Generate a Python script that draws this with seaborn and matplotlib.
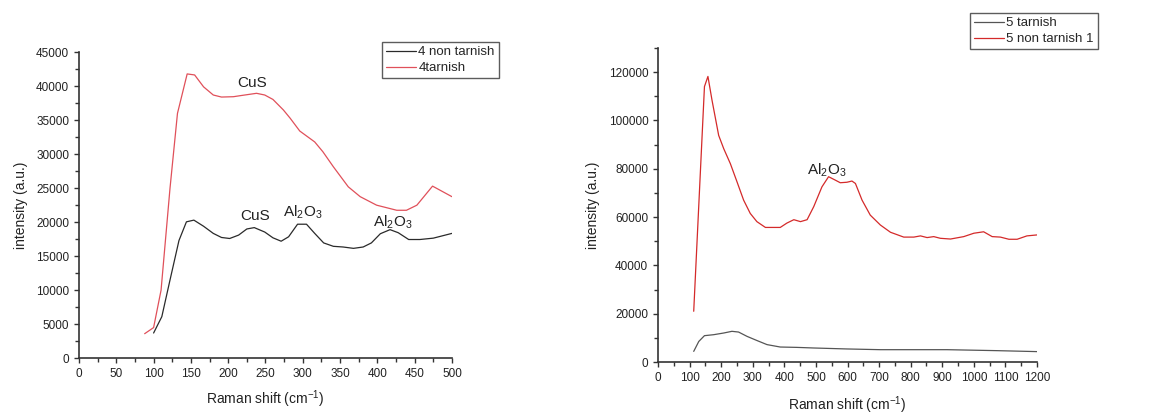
import matplotlib
matplotlib.use("Agg")
import matplotlib.pyplot as plt
from matplotlib.ticker import MultipleLocator
import seaborn as sns

# Sample 4: Raman spectra
s4_tarnish_x = [88, 100, 110, 122, 132, 145, 155, 167, 180, 191, 207, 216, 238, 249, 260,
                274, 283, 296, 316, 327, 341, 361, 377, 399, 426, 439, 453, 474, 500]
s4_tarnish_y = [3600, 4500, 10000, 25000, 36000, 41800, 41650, 39900, 38700, 38400, 38450,
                38600, 38950, 38700, 38050, 36500, 35300, 33400, 31800, 30350, 28150, 25200,
                23750, 22500, 21750, 21750, 22500, 25300, 23750]

s4_non_x = [100, 111, 122, 134, 144, 154, 167, 180, 191, 202, 214, 225, 235, 249, 260, 271,
            281, 293, 305, 316, 328, 341, 354, 368, 381, 392, 404, 417, 428, 442, 457, 475, 500]
s4_non_y = [3700, 6100, 11500, 17300, 20050, 20300, 19400, 18350, 17750, 17600, 18100, 19000,
            19200, 18550, 17700, 17200, 17850, 19700, 19700, 18350, 16950, 16450, 16350,
            16150, 16350, 16950, 18300, 18900, 18450, 17450, 17450, 17650, 18350]

# Sample 5: Raman spectra
s5_non_x = [113, 147, 158, 171, 192, 208, 229, 250, 271, 292, 313, 340, 387, 408, 430,
            451, 472, 493, 519, 540, 561, 577, 598, 614, 625, 646, 672, 704, 736, 778, 810,
            831, 852, 873, 894, 926, 968, 1000, 1031, 1058, 1084, 1111, 1137, 1168, 1200]
s5_non_y = [21000, 114000, 118200, 108300, 93800, 88300, 82100, 74600, 67000, 61500,
            58100, 55700, 55700, 57500, 58900, 58100, 58900, 64300, 72500, 76700, 75300,
            74200, 74400, 74900, 73900, 67000, 60800, 56700, 53700, 51700, 51700, 52200,
            51500, 51900, 51200, 50900, 51900, 53300, 53900, 51900, 51700, 50800, 50800,
            52200, 52600]

s5_tarnish_x = [113, 129, 147, 176, 208, 234, 255, 282, 313, 345, 387, 440, 493, 598, 704,
                915, 1073, 1200]
s5_tarnish_y = [4400, 8500, 10900, 11300, 12000, 12700, 12400, 10600, 8900, 7200, 6200,
                6050, 5800, 5400, 5100, 5100, 4700, 4300]

sns.set_style("ticks")
plt.rcParams["font.family"] = ["Liberation Sans", "DejaVu Sans"]
plt.rcParams["mathtext.fontset"] = "custom"
plt.rcParams["mathtext.rm"] = "Liberation Sans"
plt.rcParams["mathtext.it"] = "Liberation Sans"

fig = plt.figure(figsize=(11.69, 4.16), dpi=100)
ax1 = fig.add_axes([0.0676, 0.139, 0.319, 0.7356])
ax2 = fig.add_axes([0.5629, 0.1298, 0.3242, 0.755])

RED_A = "#e0505a"
RED_B = "#d42a2a"
BLACK = "#2a2a2a"
GRAY = "#555555"

sns.lineplot(x=s4_non_x, y=s4_non_y, ax=ax1, color=BLACK, linewidth=0.9,
             label="4 non tarnish", sort=False)
sns.lineplot(x=s4_tarnish_x, y=s4_tarnish_y, ax=ax1, color=RED_A, linewidth=0.9,
             label="4tarnish", sort=False)

sns.lineplot(x=s5_tarnish_x, y=s5_tarnish_y, ax=ax2, color=GRAY, linewidth=0.9,
             label="5 tarnish", sort=False)
sns.lineplot(x=s5_non_x, y=s5_non_y, ax=ax2, color=RED_B, linewidth=0.9,
             label="5 non tarnish 1", sort=False)

ax1.set_xlim(0, 500)
ax1.set_ylim(0, 45000)
ax1.xaxis.set_major_locator(MultipleLocator(50))
ax1.xaxis.set_minor_locator(MultipleLocator(25))
ax1.yaxis.set_major_locator(MultipleLocator(5000))
ax1.yaxis.set_minor_locator(MultipleLocator(2500))

ax2.set_xlim(0, 1200)
ax2.set_ylim(0, 130000)
ax2.xaxis.set_major_locator(MultipleLocator(100))
ax2.xaxis.set_minor_locator(MultipleLocator(50))
ax2.yaxis.set_major_locator(MultipleLocator(20000))
ax2.yaxis.set_minor_locator(MultipleLocator(10000))

for ax, xpad in ((ax1, 6), (ax2, 8)):
    sns.despine(ax=ax)
    for side in ("left", "bottom"):
        ax.spines[side].set_linewidth(1.2)
        ax.spines[side].set_color("#333333")
    ax.tick_params(which="major", direction="out", length=3.5, width=1.0,
                   labelsize=8.5, colors="#333333", labelcolor="#222222")
    ax.tick_params(which="minor", direction="out", length=3, width=1.0, colors="#333333")
    ax.set_xlabel("Raman shift (cm$^{-1}$)", fontsize=10, color="#222222", labelpad=xpad)
    ax.set_ylabel("intensity (a.u.)", fontsize=10, color="#222222", labelpad=6)

# Peak labels
ax1.text(232, 40500, "CuS", ha="center", va="center", fontsize=11, color="#222222")
ax1.text(236, 20900, "CuS", ha="center", va="center", fontsize=11, color="#222222")
ax1.text(300, 21400, "Al$_2$O$_3$", ha="center", va="center", fontsize=11, color="#222222")
ax1.text(420, 20050, "Al$_2$O$_3$", ha="center", va="center", fontsize=11, color="#222222")
ax2.text(535, 79400, "Al$_2$O$_3$", ha="center", va="center", fontsize=11, color="#222222")

for ax, anchor in ((ax1, (382 / 1169, 1 - 42 / 416)), (ax2, (970 / 1169, 1 - 13 / 416))):
    leg = ax.legend(loc="upper left", bbox_to_anchor=anchor,
                    bbox_transform=fig.transFigure, borderaxespad=0,
                    fontsize=9.5, frameon=True, fancybox=False, handlelength=2.3,
                    handletextpad=0.15, borderpad=0.3, labelspacing=0.3)
    leg.get_frame().set_edgecolor("#333333")
    leg.get_frame().set_linewidth(1.0)

fig.savefig("out.png", dpi=100)
